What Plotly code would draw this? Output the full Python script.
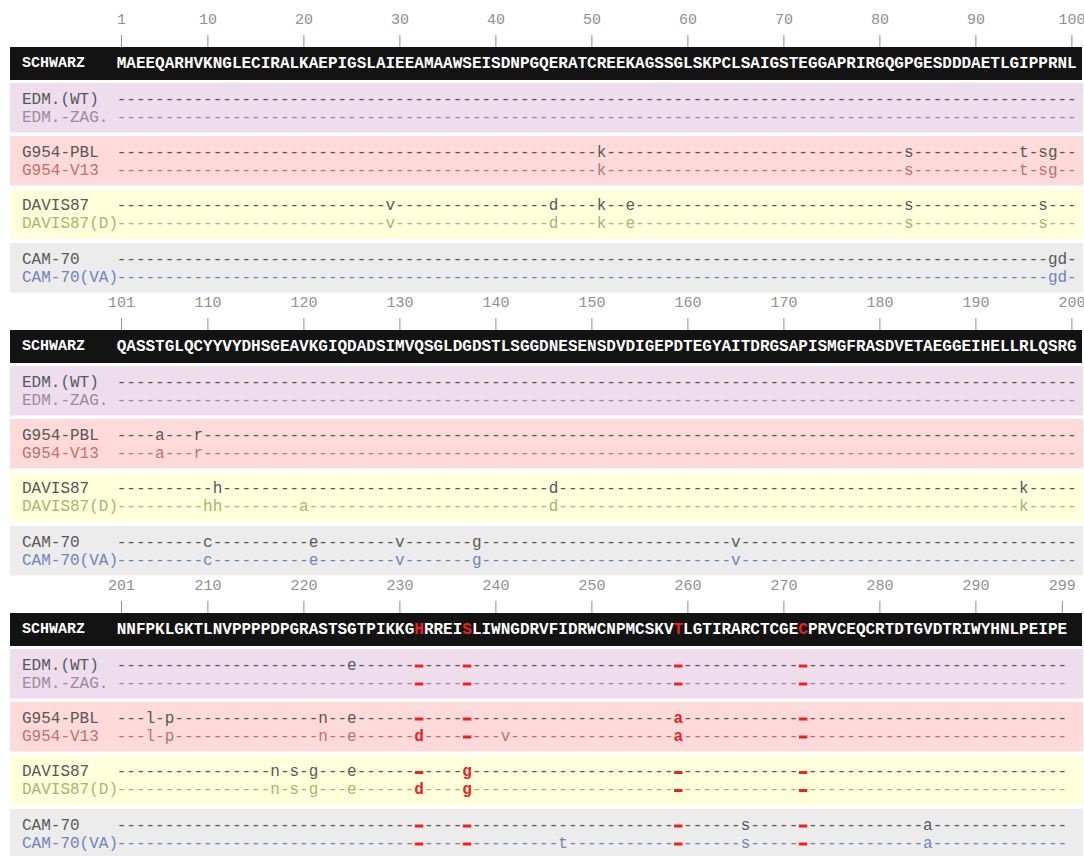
import plotly.graph_objects as go

# ---------------------------------------------------------------- data
REFERENCE_NAME = "SCHWARZ"
REFERENCE_SEQ = (
    "MAEEQARHVKNGLECIRALKAEPIGSLAIEEAMAAWSEISDNPGQERATCREEKAGSSGLSKPCLSAIGSTEGGAPRIRGQGPGESDDDAETLGIPPRNL"
    "QASSTGLQCYYVYDHSGEAVKGIQDADSIMVQSGLDGDSTLSGGDNESENSDVDIGEPDTEGYAITDRGSAPISMGFRASDVETAEGGEIHELLRLQSRG"
    "NNFPKLGKTLNVPPPPDPGRASTSGTPIKKGHRREISLIWNGDRVFIDRWCNPMCSKVTLGTIRARCTCGECPRVCEQCRTDTGVDTRIWYHNLPEIPE"
)

# alignment blocks: first residue and block length
BLOCK_STARTS = [1, 101, 201]
BLOCK_LENGTHS = [100, 100, 99]
BLOCK_TICKS = [
    [1, 10, 20, 30, 40, 50, 60, 70, 80, 90, 100],
    [101, 110, 120, 130, 140, 150, 160, 170, 180, 190, 200],
    [201, 210, 220, 230, 240, 250, 260, 270, 280, 290, 299],
]

# residues highlighted in every row
KEY_SITES = [232, 237, 259, 272]

# strain groups (two strains per coloured band)
GROUPS = [
    ["EDM.(WT)", "EDM.-ZAG."],
    ["G954-PBL", "G954-V13"],
    ["DAVIS87", "DAVIS87(D)"],
    ["CAM-70", "CAM-70(VA)"],
]

# amino-acid substitutions relative to the reference (position -> residue)
SUBSTITUTIONS = {
    "EDM.(WT)": {225: "e"},
    "EDM.-ZAG.": {},
    "G954-PBL": {51: "k", 83: "s", 95: "t", 97: "s", 98: "g", 105: "a", 109: "r",
                 204: "l", 206: "p", 222: "n", 225: "e", 259: "a"},
    "G954-V13": {51: "k", 83: "s", 95: "t", 97: "s", 98: "g", 105: "a", 109: "r",
                 204: "l", 206: "p", 222: "n", 225: "e", 232: "d", 241: "v", 259: "a"},
    "DAVIS87": {29: "v", 46: "d", 51: "k", 54: "e", 83: "s", 97: "s", 111: "h",
                146: "d", 195: "k", 217: "n", 219: "s", 221: "g", 225: "e", 237: "g"},
    "DAVIS87(D)": {29: "v", 46: "d", 51: "k", 54: "e", 83: "s", 97: "s", 110: "h",
                   111: "h", 120: "a", 146: "d", 195: "k", 217: "n", 219: "s",
                   221: "g", 225: "e", 232: "d", 237: "g"},
    "CAM-70": {98: "g", 99: "d", 110: "c", 121: "e", 130: "v", 138: "g", 165: "v",
               266: "s", 285: "a"},
    "CAM-70(VA)": {98: "g", 99: "d", 110: "c", 121: "e", 130: "v", 138: "g", 165: "v",
                   247: "t", 266: "s", 285: "a"},
}

# ---------------------------------------------------------------- style
BAND_COLORS = ["#eddded", "#ffdada", "#ffffdc", "#ececec"]
STRAIN_COLORS = {
    "EDM.(WT)": "#585858", "EDM.-ZAG.": "#9c8a9c",
    "G954-PBL": "#585858", "G954-V13": "#c07070",
    "DAVIS87": "#585858", "DAVIS87(D)": "#a6b673",
    "CAM-70": "#585858", "CAM-70(VA)": "#7282bb",
}
RED = "#ee2020"
BAR_COLOR = "#131313"
TICK_COLOR = "#8f8f8f"
MONO = "Courier New, Liberation Mono, monospace"

W, H = 1084, 856
CHAR_W = 9.6           # pixels per alignment column
COL1_PX = 121.5        # pixel centre of column 1
X0 = -COL1_PX / CHAR_W + 1
X1 = X0 + W / CHAR_W
LABEL_X = X0 + 20 / CHAR_W

BLOCK_PITCH = 283
TICK_LABEL_Y, TICK_TOP = 20, 35
BAR_TOP, BAR_BOTTOM = 47, 80
BAND_TOPS = [83, 136, 189.5, 243]
BAND_HEIGHT = 49.5
ROW_OFFSETS = [16.5, 34.5]

# ---------------------------------------------------------------- build
fig = go.Figure()
shapes, annotations = [], []

norm = dict(x=[], y=[], text=[], color=[])
bold = dict(x=[], y=[], text=[], color=[])
gap = dict(x=[], y=[])          # unchanged key sites, drawn as red bars
tick_lab = dict(x=[], y=[], text=[])
tick_x, tick_y = [], []

for b, (start, length) in enumerate(zip(BLOCK_STARTS, BLOCK_LENGTHS)):
    off = b * BLOCK_PITCH

    # ruler
    for t in BLOCK_TICKS[b]:
        col = t - start + 1
        tick_lab["x"].append(col)
        tick_lab["y"].append(off + TICK_LABEL_Y)
        tick_lab["text"].append(str(t))
        tick_x += [col, col, None]
        tick_y += [off + TICK_TOP, off + BAR_TOP, None]

    # reference bar
    shapes.append(dict(type="rect", xref="paper", yref="y",
                       x0=10 / W, x1=1082 / W, y0=off + BAR_TOP, y1=off + BAR_BOTTOM,
                       fillcolor=BAR_COLOR, line_width=0, layer="below"))
    bar_mid = off + (BAR_TOP + BAR_BOTTOM) / 2
    annotations.append(dict(x=LABEL_X, y=bar_mid, text="<b>%s</b>" % REFERENCE_NAME,
                            xanchor="left", yanchor="middle", showarrow=False,
                            font=dict(family=MONO, size=15, color="white")))
    for i in range(length):
        pos = start + i
        bold["x"].append(i + 1)
        bold["y"].append(bar_mid)
        bold["text"].append(REFERENCE_SEQ[pos - 1])
        bold["color"].append(RED if pos in KEY_SITES else "white")

    # strain bands
    for g, strains in enumerate(GROUPS):
        top = off + BAND_TOPS[g]
        shapes.append(dict(type="rect", xref="paper", yref="y",
                           x0=10 / W, x1=1083 / W, y0=top, y1=top + BAND_HEIGHT,
                           fillcolor=BAND_COLORS[g], line_width=0, layer="below"))
        for r, name in enumerate(strains):
            y = top + ROW_OFFSETS[r]
            color = STRAIN_COLORS[name]
            annotations.append(dict(x=LABEL_X, y=y, text=name, xanchor="left",
                                    yanchor="middle", showarrow=False,
                                    font=dict(family=MONO, size=16, color=color)))
            subs = SUBSTITUTIONS[name]
            for i in range(length):
                pos = start + i
                if pos in KEY_SITES:
                    if pos in subs:
                        bold["x"].append(i + 1)
                        bold["y"].append(y)
                        bold["text"].append(subs[pos])
                        bold["color"].append(RED)
                    else:
                        gap["x"].append(i + 1)
                        gap["y"].append(y + 0.5)
                else:
                    norm["x"].append(i + 1)
                    norm["y"].append(y)
                    norm["text"].append(subs.get(pos, "-"))
                    norm["color"].append(color)

fig.add_trace(go.Scatter(x=tick_x, y=tick_y, mode="lines",
                         line=dict(color=TICK_COLOR, width=1), hoverinfo="skip"))
fig.add_trace(go.Scatter(x=tick_lab["x"], y=tick_lab["y"], text=tick_lab["text"],
                         mode="text", textposition="middle center",
                         textfont=dict(family=MONO, size=15, color=TICK_COLOR),
                         hoverinfo="skip"))
fig.add_trace(go.Scatter(x=norm["x"], y=norm["y"], text=norm["text"], mode="text",
                         textposition="middle center",
                         textfont=dict(family=MONO, size=16, color=norm["color"]),
                         hoverinfo="skip"))
fig.add_trace(go.Scatter(x=gap["x"], y=gap["y"], mode="markers",
                         marker=dict(symbol="line-ew", size=6,
                                     line=dict(color=RED, width=3)),
                         hoverinfo="skip"))
fig.add_trace(go.Scatter(x=bold["x"], y=bold["y"], text=bold["text"], mode="text",
                         textposition="middle center",
                         textfont=dict(family=MONO, size=16, color=bold["color"],
                                       weight="bold"),
                         hoverinfo="skip"))

fig.update_layout(
    width=W, height=H, margin=dict(l=0, r=0, t=0, b=0),
    paper_bgcolor="white", plot_bgcolor="white", showlegend=False,
    xaxis=dict(range=[X0, X1], visible=False, fixedrange=True),
    yaxis=dict(range=[H, 0], visible=False, fixedrange=True),
    shapes=shapes, annotations=annotations,
)

fig.write_html("out.html")
